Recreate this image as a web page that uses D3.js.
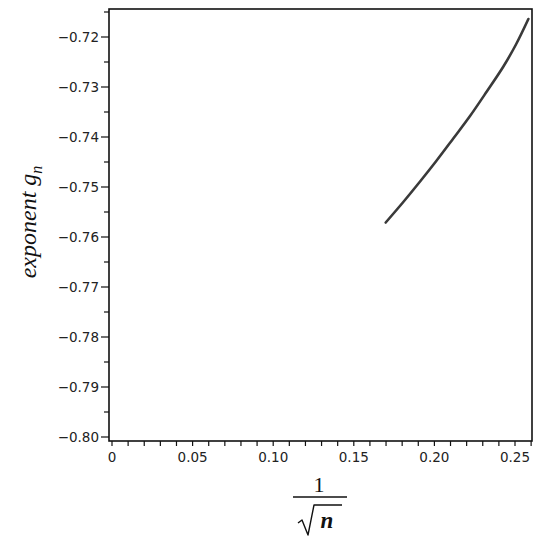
<!DOCTYPE html>
<html>
<head>
<meta charset="utf-8">
<script src="https://cdn.jsdelivr.net/npm/d3@7"></script>
<style>
  body{margin:0;background:#fff;}
  svg{display:block;}
</style>
</head>
<body>
<div id="chart"></div>
<script>
// values: x = 1/sqrt(n), y = exponent g_n
const xs = [0.1698, 0.1807, 0.1911, 0.2014, 0.2117, 0.2221, 0.2325, 0.2428, 0.2506, 0.2583];
const ys = [-0.7571, -0.7530, -0.7489, -0.7447, -0.7403, -0.7358, -0.7309, -0.7259, -0.7215, -0.7164];
const xTicks = [0, 0.05, 0.10, 0.15, 0.20, 0.25];
const yTicks = [-0.72, -0.73, -0.74, -0.75, -0.76, -0.77, -0.78, -0.79, -0.80];

const W = 540, H = 540;
const box = {left:109, top:9, right:532, bottom:441};

const svg = d3.select('#chart').append('svg').attr('width', W).attr('height', H);

const x = d3.scaleLinear().domain([0, 0.25]).range([112, 515]);
const y = d3.scaleLinear().domain([-0.80, -0.72]).range([437, 37]);

// frame
svg.append('rect')
  .attr('x', box.left).attr('y', box.top)
  .attr('width', box.right - box.left).attr('height', box.bottom - box.top)
  .attr('fill', 'none').attr('stroke', '#111').attr('stroke-width', 1.6);

// x axis ticks (major + minor every 0.01)
const xMinor = d3.range(0, 0.2601, 0.01);
svg.append('g').selectAll('line').data(xMinor).enter().append('line')
  .attr('x1', d => x(d)).attr('x2', d => x(d))
  .attr('y1', box.bottom).attr('y2', box.bottom + 5)
  .attr('stroke', '#111').attr('stroke-width', 1.2);
svg.append('g').selectAll('text').data(xTicks).enter().append('text')
  .attr('x', d => x(d)).attr('y', 462)
  .attr('text-anchor', 'middle')
  .style('font-family', 'DejaVu Sans, sans-serif').style('font-size', '13.5px').attr('fill', '#222')
  .text(d => d === 0 ? '0' : d3.format('.2f')(d));

// y axis ticks (major + minor every 0.005)
const yMinor = d3.range(-0.80, -0.7149, 0.005);
svg.append('g').selectAll('line').data(yMinor).enter().append('line')
  .attr('x1', box.left).attr('x2', (d, i) => i % 2 === 0 ? box.left - 8 : box.left - 5)
  .attr('y1', d => y(d)).attr('y2', d => y(d))
  .attr('stroke', '#111').attr('stroke-width', 1.2);
svg.append('g').selectAll('text').data(yTicks).enter().append('text')
  .attr('x', box.left - 10).attr('y', d => y(d)).attr('dy', '0.35em')
  .attr('text-anchor', 'end')
  .style('font-family', 'DejaVu Sans, sans-serif').style('font-size', '13.5px').attr('fill', '#222')
  .text(d => d3.format('.2f')(d).replace('-', '\u2212'));

// curve
const pts = xs.map((v, i) => [v, ys[i]]);
svg.append('path').datum(pts)
  .attr('fill', 'none').attr('stroke', '#3a3a3a').attr('stroke-width', 2.6)
  .attr('stroke-linecap', 'round')
  .attr('d', d3.line().x(d => x(d[0])).y(d => y(d[1])).curve(d3.curveCatmullRom));

// y label
const yl = svg.append('text')
  .attr('transform', 'translate(36,222) rotate(-90)')
  .attr('text-anchor', 'middle')
  .style('font-family', 'Liberation Serif, serif').style('font-style', 'italic').style('font-size', '24px').attr('fill', '#111');
yl.append('tspan').text('exponent g');
yl.append('tspan').attr('dy', 6).style('font-size', '16px').text('n');

// x label: 1 / sqrt(n)
const xl = svg.append('g');
xl.append('text').attr('x', 319).attr('y', 492).attr('text-anchor', 'middle')
  .style('font-family', 'Liberation Serif, serif').style('font-size', '22px').attr('fill', '#111').text('1');
xl.append('line').attr('x1', 293).attr('x2', 347).attr('y1', 497).attr('y2', 497)
  .attr('stroke', '#111').attr('stroke-width', 1.3);
xl.append('path').attr('d', 'M298,523 L302,520 L308,535 L314,505 L342,505')
  .attr('fill', 'none').attr('stroke', '#111').attr('stroke-width', 1.4).attr('stroke-linejoin', 'round');
xl.append('text').attr('x', 327).attr('y', 528).attr('text-anchor', 'middle')
  .style('font-family', 'Liberation Serif, serif').style('font-style', 'italic').style('font-weight', 'bold').style('font-size', '23px').attr('fill', '#111').text('n');
</script>
</body>
</html>
